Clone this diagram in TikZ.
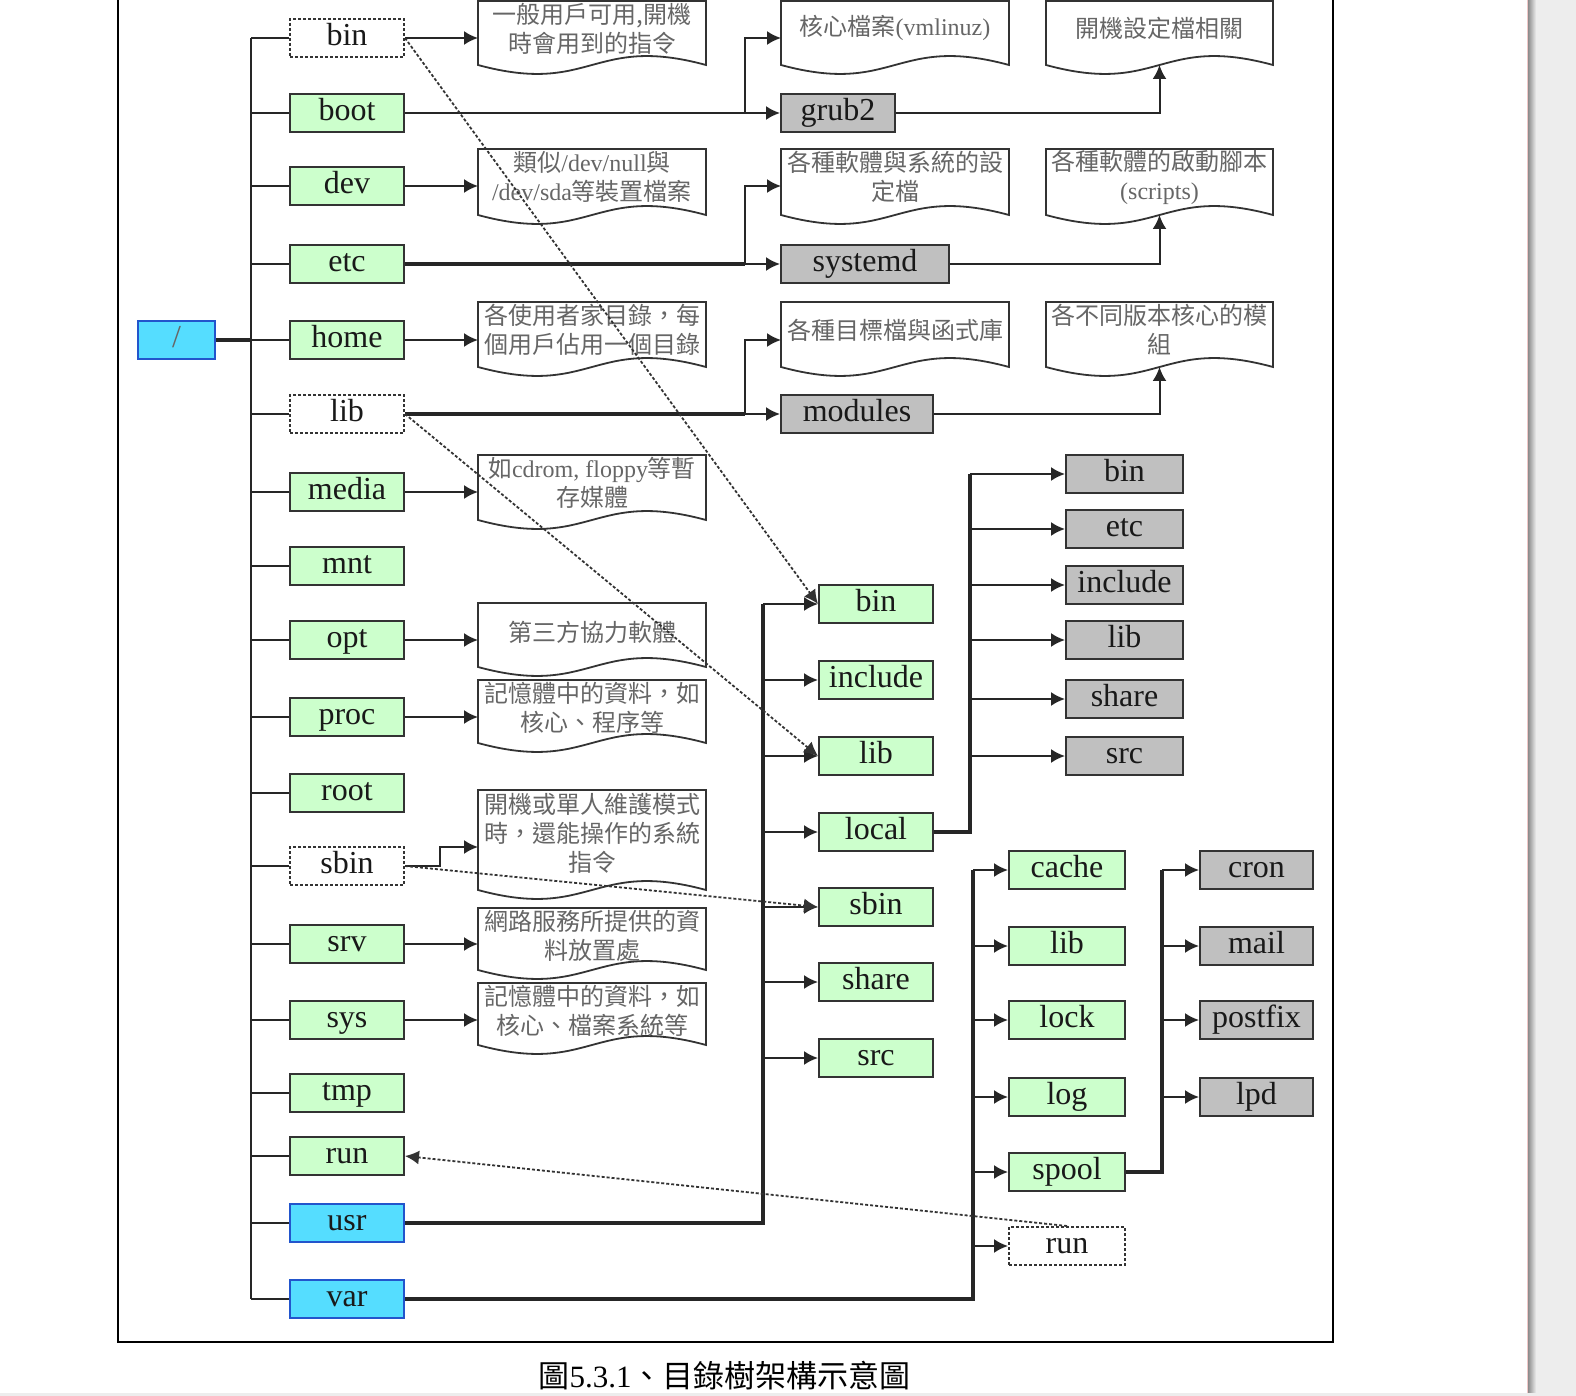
\documentclass[tikz,border=0pt]{standalone}
\usepackage{fontspec}
\setmainfont{Liberation Serif}
\newfontfamily\cjk{Noto Sans CJK TC}
\usetikzlibrary{arrows.meta,calc}
\newcommand\zh[1]{{\cjk #1}}
\definecolor{boxgreen}{HTML}{CCFFCC}
\definecolor{boxcyan}{HTML}{55DDFF}
\definecolor{cyanedge}{HTML}{2255CC}
\definecolor{boxgray}{HTML}{C0C0C0}
\definecolor{edge}{HTML}{333333}
\definecolor{notetxt}{HTML}{666666}
\definecolor{pagebg}{HTML}{EDEDED}
\definecolor{pageline}{HTML}{F0C8C8}
\newcommand\docnote[5]{%
  \node[inner sep=0pt,outer sep=0pt,minimum width=#4*0.5pt,minimum height=#5*0.5pt] (#1) at ({#2+#4/2},{#3+#5/2}) {};
  \draw[noteshape] (#1.north west) -- (#1.north east) -- (#1.south east)
     .. controls ($(#1.south)+(0,-31)$) and ($(#1.south)+(0,31)$) .. (#1.south west) -- cycle;
}
\begin{document}
\begin{tikzpicture}[x=0.5pt,y=-0.5pt,
  dir/.style={draw=edge,line width=1pt,minimum height=19pt,minimum width=57pt,inner sep=0pt,
     font=\fontsize{16}{16}\selectfont,text height=11pt,text depth=3.5pt,text=black!90},
  gbox/.style={dir,fill=boxgreen},
  gybox/.style={dir,fill=boxgray},
  dbox/.style={dir,fill=white,dash pattern=on 1.5pt off 1pt},
  cbox/.style={dir,fill=boxcyan,draw=cyanedge},
  conn/.style={draw=black!85,line width=1pt},
  arr/.style={conn,-{Latex[length=7pt,width=7pt]}},
  thk/.style={conn,line width=1.6pt},
  dotarr/.style={draw=black!80,line width=0.9pt,dash pattern=on 1.5pt off 1pt,-{Latex[length=7pt,width=7pt]}},
  noteshape/.style={draw=edge,line width=0.9pt,fill=white},
  notetext/.style={text=notetxt,align=center,font=\fontsize{12}{14.5}\selectfont,inner sep=0pt}
]
\useasboundingbox (0,0) rectangle (1576,1396);
\clip (0,0) rectangle (1576,1396);
\fill[white] (0,0) rectangle (1576,1396);
% page edges
\fill[pagebg] (1536,0) rectangle (1576,1396);
\shade[left color=black!45,right color=pagebg] (1528,0) rectangle (1536,1396);
\fill[pageline] (1526.5,0) rectangle (1528,1396);
\fill[pagebg] (0,1393) rectangle (1576,1396);
% frame
\draw[line width=1.2pt] (118,-10) rectangle (1333,1342);

% notes column 1
\docnote{nbin}{478}{1}{228}{64}
\docnote{ndev}{478}{149}{228}{66}
\docnote{nhome}{478}{302}{228}{65}
\docnote{nmedia}{478}{455}{228}{65}
\docnote{nopt}{478}{603}{228}{64}
\docnote{nproc}{478}{680}{228}{63}
\docnote{nsbin}{478}{790}{228}{100}
\docnote{nsrv}{478}{908}{228}{62}
\docnote{nsys}{478}{983}{228}{62}
% notes column 2
\docnote{nkern}{781}{1}{228}{64}
\docnote{netc}{781}{149}{228}{66}
\docnote{nlib}{781}{302}{228}{65}
% notes column 3
\docnote{nboot}{1046}{1}{227}{64}
\docnote{nscript}{1046}{149}{227}{66}
\docnote{nmod}{1046}{302}{227}{65}

\node[notetext] (nbint) at ($(nbin.north)+(0,28)$) {\zh{一般用戶可用,開機}\\\zh{時會用到的指令}};
\node[notetext] (ndevt) at ($(ndev.north)+(0,28)$) {\zh{類似}/dev/null\zh{與}\\/dev/sda\zh{等裝置檔案}};
\node[notetext] (nhomet) at ($(nhome.north)+(0,28)$) {\zh{各使用者家目錄，每}\\\zh{個用戶佔用一個目錄}};
\node[notetext] (nmediat) at ($(nmedia.north)+(0,28)$) {\zh{如}cdrom, floppy\zh{等暫}\\\zh{存媒體}};
\node[notetext] (noptt) at ($(nopt.north)+(0,29)$) {\zh{第三方協力軟體}};
\node[notetext] (nproct) at ($(nproc.north)+(0,28)$) {\zh{記憶體中的資料，如}\\\zh{核心、程序等}};
\node[notetext] (nsbint) at ($(nsbin.north)+(0,43)$) {\zh{開機或單人維護模式}\\\zh{時，還能操作的系統}\\\zh{指令}};
\node[notetext] (nsrvt) at ($(nsrv.north)+(0,28)$) {\zh{網路服務所提供的資}\\\zh{料放置處}};
\node[notetext] (nsyst) at ($(nsys.north)+(0,28)$) {\zh{記憶體中的資料，如}\\\zh{核心、檔案系統等}};
\node[notetext] (nkernt) at ($(nkern.north)+(0,27)$) {\zh{核心檔案}(vmlinuz)};
\node[notetext] (netct) at ($(netc.north)+(0,28)$) {\zh{各種軟體與系統的設}\\\zh{定檔}};
\node[notetext] (nlibt) at ($(nlib.north)+(0,28)$) {\zh{各種目標檔與函式庫}};
\node[notetext] (nboott) at ($(nboot.north)+(0,27)$) {\zh{開機設定檔相關}};
\node[notetext] (nscriptt) at ($(nscript.north)+(0,28)$) {\zh{各種軟體的啟動腳本}\\(scripts)};
\node[notetext] (nmodt) at ($(nmod.north)+(0,28)$) {\zh{各不同版本核心的模}\\\zh{組}};

% root and first level
\node[cbox,minimum width=38.5pt,text=black!60] (root) at (176.5,340) {/};
\node[dbox] (bin) at (347,38) {bin};
\node[gbox] (boot) at (347,113) {boot};
\node[gbox] (dev) at (347,186) {dev};
\node[gbox] (etc) at (347,264) {etc};
\node[gbox] (home) at (347,340) {home};
\node[dbox] (lib) at (347,414) {lib};
\node[gbox] (media) at (347,492) {media};
\node[gbox] (mnt) at (347,566) {mnt};
\node[gbox] (opt) at (347,640) {opt};
\node[gbox] (proc) at (347,717) {proc};
\node[gbox] (rootdir) at (347,793) {root};
\node[dbox] (sbin) at (347,866) {sbin};
\node[gbox] (srv) at (347,944) {srv};
\node[gbox] (sys) at (347,1020) {sys};
\node[gbox] (tmp) at (347,1093) {tmp};
\node[gbox] (run) at (347,1156) {run};
\node[cbox] (usr) at (347,1223) {usr};
\node[cbox] (var) at (347,1299) {var};

\coordinate (ttop) at (251,38);
\coordinate (tbot) at (251,1299);
\draw[conn] (ttop) -- (tbot);
\draw[thk] (root) -- (root -| ttop);
\foreach \n in {bin,boot,dev,etc,home,lib,media,mnt,opt,proc,rootdir,sbin,srv,sys,tmp,run,usr,var}
  \draw[conn] (ttop |- \n) -- (\n.west);

% arrows into column-1 notes
\draw[arr] (bin) -- (bin -| nbin.west);
\draw[arr] (dev) -- (dev -| ndev.west);
\draw[arr] (home) -- (home -| nhome.west);
\draw[arr] (media) -- (media -| nmedia.west);
\draw[arr] (opt) -- (opt -| nopt.west);
\draw[arr] (proc) -- (proc -| nproc.west);
\draw[arr] (srv) -- (srv -| nsrv.west);
\draw[arr] (sys) -- (sys -| nsys.west);
\coordinate (sbk) at (440,847);
\draw[arr] (sbin.east) -| (sbk) -- (sbk -| nsbin.west);

% boot / etc / lib second level
\node[gybox] (grub2) at (838,113) {grub2};
\node[gybox,minimum width=84pt] (systemd) at (865,264) {systemd};
\node[gybox,minimum width=76pt] (modules) at (857,414) {modules};
\coordinate (jb) at (745,113);
\coordinate (je) at (745,264);
\coordinate (jlb) at (745,414);
\draw[conn] (boot) -- (jb);
\draw[arr] (jb) -- (grub2);
\draw[arr] (jb) |- (nkern.west |- bin);
\draw[thk] (etc) -- (je);
\draw[arr] (je) -- (systemd);
\draw[arr] (je) |- (netc.west |- dev);
\draw[thk] (lib) -- (jlb);
\draw[arr] (jlb) -- (modules);
\draw[arr] (jlb) |- (nlib.west |- home);
\draw[arr] (grub2) -| (nboot.south);
\draw[arr] (systemd) -| (nscript.south);
\draw[arr] (modules) -| (nmod.south);

% usr
\node[gbox] (ubin) at (876,604) {bin};
\node[gbox] (uinc) at (876,680) {include};
\node[gbox] (ulib) at (876,756) {lib};
\node[gbox] (ulocal) at (876,832) {local};
\node[gbox] (usbin) at (876,907) {sbin};
\node[gbox] (ushare) at (876,982) {share};
\node[gbox] (usrc) at (876,1058) {src};
\coordinate (ju) at (763,604);
\draw[thk] (usr) -| (ju);
\foreach \n in {ubin,uinc,ulib,ulocal,usbin,ushare,usrc}
  \draw[arr] (ju |- \n) -- (\n);

% usr/local
\node[gybox,minimum width=58.5pt] (lbin) at (1124.5,474) {bin};
\node[gybox,minimum width=58.5pt] (letc) at (1124.5,529) {etc};
\node[gybox,minimum width=58.5pt] (linc) at (1124.5,585) {include};
\node[gybox,minimum width=58.5pt] (llib) at (1124.5,640) {lib};
\node[gybox,minimum width=58.5pt] (lshare) at (1124.5,699) {share};
\node[gybox,minimum width=58.5pt] (lsrc) at (1124.5,756) {src};
\coordinate (jl) at (970,474);
\draw[thk] (ulocal) -| (jl);
\foreach \n in {lbin,letc,linc,llib,lshare,lsrc}
  \draw[arr] (jl |- \n) -- (\n);

% var
\node[gbox,minimum width=58pt] (vcache) at (1067,870) {cache};
\node[gbox,minimum width=58pt] (vlib) at (1067,946) {lib};
\node[gbox,minimum width=58pt] (vlock) at (1067,1020) {lock};
\node[gbox,minimum width=58pt] (vlog) at (1067,1097) {log};
\node[gbox,minimum width=58pt] (vspool) at (1067,1172) {spool};
\node[dbox,minimum width=58pt] (vrun) at (1067,1246) {run};
\coordinate (jv) at (973,870);
\draw[thk] (var) -| (jv);
\foreach \n in {vcache,vlib,vlock,vlog,vspool,vrun}
  \draw[arr] (jv |- \n) -- (\n);

% var/spool
\node[gybox,minimum width=56.5pt] (cron) at (1256.5,870) {cron};
\node[gybox,minimum width=56.5pt] (mail) at (1256.5,946) {mail};
\node[gybox,minimum width=56.5pt] (postfix) at (1256.5,1020) {postfix};
\node[gybox,minimum width=56.5pt] (lpd) at (1256.5,1097) {lpd};
\coordinate (js) at (1162,870);
\draw[thk] (vspool) -| (js);
\foreach \n in {cron,mail,postfix,lpd}
  \draw[arr] (js |- \n) -- (\n);

% dotted links
\draw[dotarr] (bin.east) -- (ubin.west);
\draw[dotarr] (lib.east) -- (ulib.west);
\draw[dotarr] (sbin.east) -- (usbin.west);
\draw[dotarr] (vrun.north) -- (run.east);

% caption
\node[font=\fontsize{15.5}{15.5}\selectfont,inner sep=0pt] (cap) at (724.5,1376) {\zh{圖}5.3.1\zh{、目錄樹架構示意圖}};
\end{tikzpicture}
\end{document}
